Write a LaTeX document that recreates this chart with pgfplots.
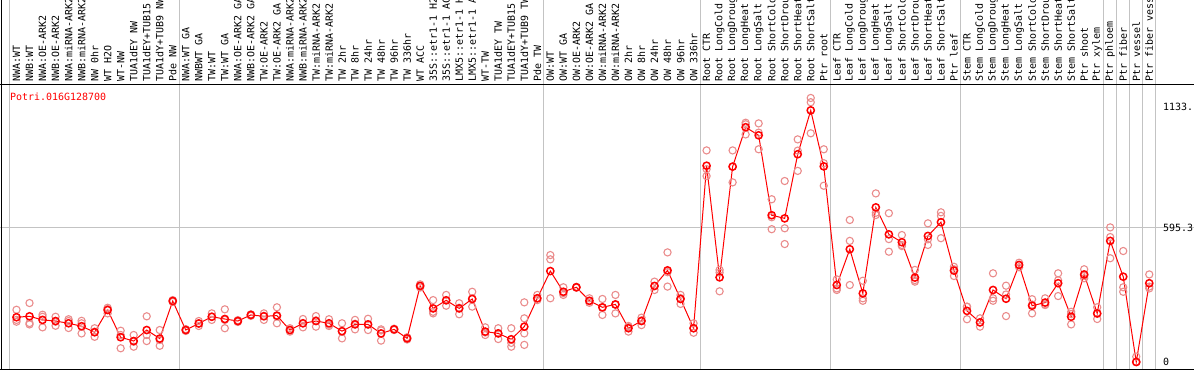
\documentclass[border=0pt]{standalone}
\usepackage{fontspec}
\newfontfamily\mono{DejaVu Sans Mono}
\usepackage{pgfplots}
\usepackage{pgfplotstable}
\pgfplotsset{compat=1.18}
\definecolor{meanred}{RGB}{255,0,0}
\definecolor{reppink}{RGB}{234,140,140}
\definecolor{gridgray}{RGB}{195,195,195}
\newcommand{\lab}{\mono\fontsize{10}{12}\selectfont}

\pgfplotstableread{
x y
0 199
1 203
2 187
3 182
4 172
5 159
6 132
7 231
8 110
9 93
10 142
11 104
12 271
13 142
14 171
15 201
16 191
17 182
18 209
19 203
20 206
21 142
22 172
23 182
24 172
25 137
26 167
27 167
28 127
29 145
30 105
31 338
32 238
33 274
34 238
35 280
36 135
37 127
38 101
39 157
40 283
41 404
42 312
43 332
44 272
45 243
46 256
47 150
48 182
49 338
50 407
51 280
52 150
53 872
54 376
55 868
56 1043
57 1007
58 652
59 638
60 923
61 1118
62 869
63 342
64 501
65 305
66 687
67 567
68 532
69 375
70 560
71 621
72 406
73 227
74 176
75 320
76 281
77 431
78 250
79 264
80 350
81 201
82 389
83 216
84 538
85 379
86 0
87 350
}\means

\pgfplotstableread{
x y
0 232
0 187
0 179
1 262
1 173
1 167
2 210
2 201
2 154
3 201
3 179
3 161
4 190
4 182
4 151
5 183
5 172
5 127
6 150
6 135
6 112
7 241
7 235
7 216
8 139
8 120
8 61
9 120
9 90
9 68
10 203
10 120
10 93
11 142
11 98
11 72
12 275
12 271
12 267
13 146
13 142
13 138
14 182
14 172
14 160
15 216
15 201
15 187
16 234
16 187
16 150
17 186
17 182
17 178
18 212
18 209
18 205
19 216
19 205
19 187
20 243
20 203
20 172
21 150
21 142
21 135
22 191
22 172
22 154
23 204
23 185
23 157
24 190
24 166
24 160
25 172
25 135
25 105
26 187
26 170
26 145
27 192
27 167
27 142
28 145
28 140
28 95
29 148
29 145
29 142
30 110
30 105
30 100
31 345
31 338
31 331
32 275
32 223
32 216
33 298
33 274
33 250
34 261
34 241
34 212
35 312
35 282
35 246
36 154
36 131
36 120
37 150
37 128
37 102
38 150
38 85
38 68
39 265
39 194
39 127
39 76
40 298
40 283
40 275
41 475
41 456
41 283
42 332
42 306
42 298
43 334
43 332
43 330
44 283
44 270
44 263
45 280
45 240
45 209
46 298
46 254
46 216
47 160
47 155
47 135
48 197
48 185
48 164
49 357
49 337
49 320
50 487
50 399
50 335
51 298
51 284
51 258
52 172
52 150
52 130
53 940
53 857
53 826
54 409
54 397
54 314
55 940
55 868
55 798
56 1063
56 1056
56 1011
57 1060
57 1019
57 945
58 723
58 643
58 590
59 804
59 594
59 524
60 989
60 939
60 849
61 1173
61 1154
61 1016
62 945
62 883
62 783
63 367
63 327
63 320
64 631
64 538
64 342
65 361
65 283
65 272
66 749
66 663
66 653
67 661
67 546
67 490
68 564
68 520
68 515
69 409
69 364
69 357
70 616
70 545
70 520
71 665
71 649
71 550
72 423
72 412
72 382
73 246
73 245
73 190
74 194
74 176
74 157
75 394
75 283
75 272
76 339
76 300
76 204
77 441
77 431
77 421
78 279
78 255
78 216
79 283
79 256
79 253
80 394
80 363
80 293
81 223
81 213
81 167
82 412
82 383
82 372
83 243
83 214
83 191
84 598
84 555
84 461
85 493
85 332
85 312
86 24
86 0
86 0
87 389
87 335
87 327
}\reps

\begin{document}
\begin{tikzpicture}
\begin{axis}[
  scale only axis, width=1194bp, height=370bp,
  xmin=-1.267, xmax=90.436, ymin=-35.54, ymax=1608.2,
  axis line style={draw=none},
  major tick length=0pt, minor tick length=0pt,
  clip=false,
  xtick={0,...,87},
  xticklabels={{NWA:WT},{NWB:WT},{NWA:OE-ARK2},{NWB:OE-ARK2},{NWA:miRNA-ARK2},{NWB:miRNA-ARK2},{NW 0hr},{WT H2O},{WT-NW},{TUA1dEY NW},{TUA1dEY+TUB15},{TUA1dY+TUB9 NW},{Pde NW},
    {NWA:WT GA},{NWBWT GA},{TW:WT},{TW:WT GA},{NWA:OE-ARK2 GA},{NWB:OE-ARK2 GA},{TW:OE-ARK2},{TW:OE-ARK2 GA},{NWA:miRNA-ARK2},{NWB:miRNA-ARK2},{TW:miRNA-ARK2},{TW:miRNA-ARK2},{TW 2hr},{TW 8hr},{TW 24hr},{TW 48hr},{TW 96hr},{TW 336hr},{WT ACC},{35S::etr1-1 H2},{35S::etr1-1 AC},{LMX5::etr1-1 H},{LMX5::etr1-1 A},{WT-TW},{TUA1dEY TW},{TUA1dEY+TUB15},{TUA1dY+TUB9 TW},{Pde TW},
    {OW:WT},{OW:WT GA},{OW:OE-ARK2},{OW:OE-ARK2 GA},{OW:miRNA-ARK2},{OW:miRNA-ARK2},{OW 2hr},{OW 8hr},{OW 24hr},{OW 48hr},{OW 96hr},{OW 336hr},
    {Root CTR},{Root LongCold},{Root LongDroug},{Root LongHeat},{Root LongSalt},{Root ShortCold},{Root ShortDrou},{Root ShortHeat},{Root ShortSalt},{Ptr root},
    {Leaf CTR},{Leaf LongCold},{Leaf LongDroug},{Leaf LongHeat},{Leaf LongSalt},{Leaf ShortCold},{Leaf ShortDrou},{Leaf ShortHeat},{Leaf ShortSalt},{Ptr leaf},
    {Stem CTR},{Stem LongCold},{Stem LongDroug},{Stem LongHeat},{Stem LongSalt},{Stem ShortCold},{Stem ShortDrou},{Stem ShortHeat},{Stem ShortSalt},{Ptr shoot},{Ptr xylem},
    {Ptr phloem},{Ptr fiber},{Ptr vessel},{Ptr fiber vess}},
  xticklabel pos=right,
  xticklabel shift=-82bp,
  xticklabel style={rotate=90, anchor=west, inner sep=0pt, font=\lab, text=black},
  extra x ticks={-0.5,12.5,40.5,52.5,62.5,72.5,83.5,84.5,85.5,86.5,87.5},
  extra x tick labels={},
  extra x tick style={grid=major},
  ytick={595.3}, yticklabels={595.3},
  ymajorgrids,
  extra y ticks={0,1133}, extra y tick labels={0,1133.},
  extra y tick style={grid=none},
  yticklabel pos=right,
  yticklabel shift=-31bp,
  yticklabel style={anchor=west, inner sep=0pt, font=\lab, text=black},
  grid style={line width=1bp, draw=gridgray},
]
\addplot[only marks, mark=o, mark size=3.6bp, mark options={draw=reppink, line width=1.1bp}] table {\reps};
\addplot[meanred, line width=1bp, mark=o, mark size=3.6bp, mark options={line width=1.5bp}] table {\means};
\node[anchor=west, inner sep=0pt, text=meanred, font=\lab] at (axis cs:-0.5,1177) {Potri.016G128700};
\draw[black, line width=1bp] (axis cs:-1.152,-35.54) -- (axis cs:-1.152,1608.2);
\draw[black, line width=1bp] (axis cs:-1.267,-32.4) -- (axis cs:90.436,-32.4);
\draw[black, line width=1bp] (axis cs:-1.267,1230.6) -- (axis cs:90.436,1230.6);
\end{axis}
\pgfresetboundingbox
\path[use as bounding box] (current axis.south west) rectangle (current axis.north east);
\end{tikzpicture}
\end{document}
